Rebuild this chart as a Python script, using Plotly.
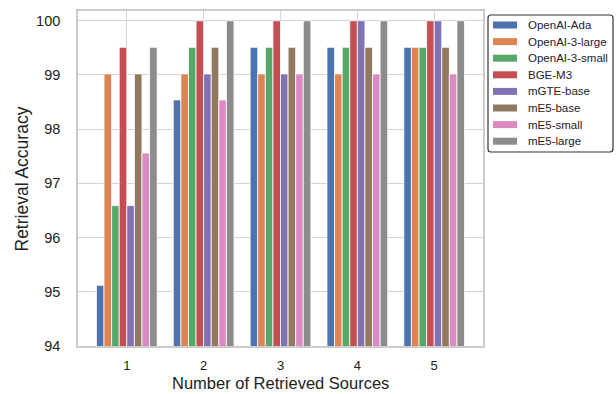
import plotly.graph_objects as go

# Retrieval accuracy (%) per embedding model vs. number of retrieved sources
sources = [1, 2, 3, 4, 5]
models = ["OpenAI-Ada", "OpenAI-3-large", "OpenAI-3-small", "BGE-M3",
          "mGTE-base", "mE5-base", "mE5-small", "mE5-large"]

openai_ada = [95.12, 98.54, 99.51, 99.51, 99.51]
openai_3_large = [99.02, 99.02, 99.02, 99.02, 99.51]
openai_3_small = [96.59, 99.51, 99.51, 99.51, 99.51]
bge_m3 = [99.51, 100.0, 100.0, 100.0, 100.0]
mgte_base = [96.59, 99.02, 99.02, 100.0, 100.0]
me5_base = [99.02, 99.51, 99.51, 99.51, 99.51]
me5_small = [97.56, 98.54, 99.02, 99.02, 99.02]
me5_large = [99.51, 100.0, 100.0, 100.0, 100.0]

series = [openai_ada, openai_3_large, openai_3_small, bge_m3,
          mgte_base, me5_base, me5_small, me5_large]
colors = ["#4C72B0", "#DD8452", "#55A868", "#C44E52",
          "#8172B3", "#937860", "#DA8BC3", "#8C8C8C"]

y_ticks = [94, 95, 96, 97, 98, 99, 100]
x_title = "Number of Retrieved Sources"
y_title = "Retrieval Accuracy"

W, H = 616, 394
M_L, M_R, M_T, M_B = 78, 133, 11, 48
PW, PH = W - M_L - M_R, H - M_T - M_B
FONT = "Liberation Sans, Arial"


def px_x(x):
    """Pixel column -> paper x coordinate."""
    return (x - M_L) / PW


def px_y(y):
    """Pixel row -> paper y coordinate."""
    return 1 - (y - M_T) / PH


fig = go.Figure()
for name, vals, col in zip(models, series, colors):
    fig.add_trace(go.Bar(
        x=sources, y=vals, name=name, showlegend=False,
        marker=dict(color=col, line=dict(color="white", width=0.8)),
    ))

axis_common = dict(
    showgrid=True, gridcolor="#d4d4d4", gridwidth=1.3,
    showline=True, linecolor="#cccccc", linewidth=1.6, mirror=True,
    ticks="", zeroline=False, automargin=False,
)

# Legend box drawn as a rounded frame outside the plot area
lx0, lx1, ly0, ly1, rad = 488, 613, 15, 152, 3
box_path = (
    f"M {px_x(lx0 + rad)},{px_y(ly0)} L {px_x(lx1 - rad)},{px_y(ly0)} "
    f"Q {px_x(lx1)},{px_y(ly0)} {px_x(lx1)},{px_y(ly0 + rad)} "
    f"L {px_x(lx1)},{px_y(ly1 - rad)} "
    f"Q {px_x(lx1)},{px_y(ly1)} {px_x(lx1 - rad)},{px_y(ly1)} "
    f"L {px_x(lx0 + rad)},{px_y(ly1)} "
    f"Q {px_x(lx0)},{px_y(ly1)} {px_x(lx0)},{px_y(ly1 - rad)} "
    f"L {px_x(lx0)},{px_y(ly0 + rad)} "
    f"Q {px_x(lx0)},{px_y(ly0)} {px_x(lx0 + rad)},{px_y(ly0)} Z"
)
shapes = [dict(type="path", path=box_path, xref="paper", yref="paper",
               line=dict(color="#333", width=1.2), fillcolor="white")]
annotations = []
row0, row_step = 25, 16.6
for i, (name, col) in enumerate(zip(models, colors)):
    cy = row0 + i * row_step
    shapes.append(dict(
        type="rect", xref="paper", yref="paper",
        x0=px_x(493), x1=px_x(517), y0=px_y(cy - 3.5), y1=px_y(cy + 3.5),
        fillcolor=col, line=dict(width=0),
    ))
    annotations.append(dict(
        x=px_x(526), y=px_y(cy), xref="paper", yref="paper",
        text=name, showarrow=False, xanchor="left", yanchor="middle",
        font=dict(family=FONT, size=11.5, color="#222"),
    ))

# Axis titles
annotations.append(dict(
    x=0.5, y=px_y(383), xref="paper", yref="paper",
    text=x_title, showarrow=False, xanchor="center", yanchor="middle",
    borderpad=0,
    font=dict(family=FONT, size=16.5, color="#222"),
))
annotations.append(dict(
    x=px_x(21), y=0.5, xref="paper", yref="paper", textangle=-90,
    text=y_title, showarrow=False, xanchor="center", yanchor="middle",
    font=dict(family=FONT, size=17.5, color="#222"),
))

fig.update_layout(
    width=W, height=H,
    margin=dict(l=M_L, r=M_R, t=M_T, b=M_B),
    paper_bgcolor="white", plot_bgcolor="white",
    barmode="group", bargap=0.21, bargroupgap=0,
    font=dict(family=FONT, color="#222"),
    showlegend=False,
    shapes=shapes,
    annotations=annotations,
    xaxis=dict(
        **axis_common,
        range=[0.365, 5.635],
        tickvals=sources, ticktext=[str(s) for s in sources],
        tickfont=dict(family=FONT, size=13, color="#222"),
        ticklabelstandoff=7,
    ),
    yaxis=dict(
        **axis_common,
        range=[94, 100.18],
        tickvals=y_ticks, ticktext=[str(t) for t in y_ticks],
        tickfont=dict(family=FONT, size=14.5, color="#222"),
        ticklabelstandoff=13,
    ),
)

fig.write_html("out.html")
